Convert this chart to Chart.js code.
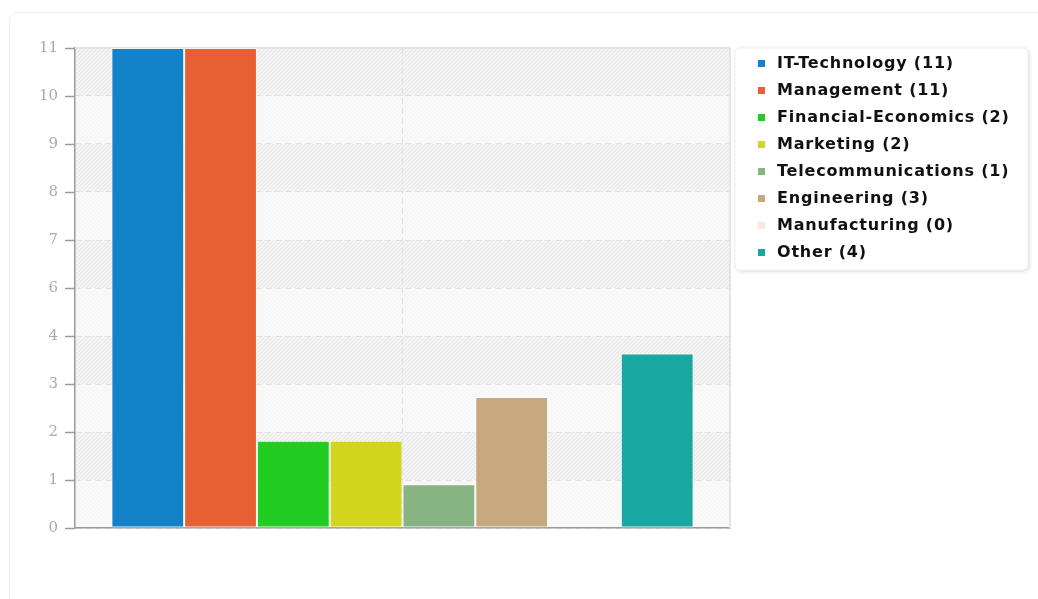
<!DOCTYPE html>
<html lang="en">
<head>
    <meta charset="UTF-8">
    <title>Candidates by Field</title>
    <script src="https://cdn.jsdelivr.net/npm/chart.js"></script>
    <style>
        html, body { margin: 0; padding: 0; background: #fff; }
        .card {
            position: absolute; left: 9px; top: 12px;
            width: 1040px; height: 620px;
            border: 1px solid #eeeeee; border-radius: 9px;
            box-sizing: border-box;
        }
        .chart-wrap { position: absolute; left: 0; top: 0; width: 1038px; height: 599px; }
    </style>
</head>
<body>
    <div class="card"></div>
    <div class="chart-wrap">
        <canvas id="fieldChart"></canvas>
    </div>

    <script>
        const fields = ['IT-Technology', 'Management', 'Financial-Economics', 'Marketing',
                        'Telecommunications', 'Engineering', 'Manufacturing', 'Other'];
        const counts = [11, 11, 2, 2, 1, 3, 0, 4];
        const colors = ['#1482c8', '#e85f33', '#21cd21', '#d2d41d',
                        '#88b383', '#c7a980', '#fbe6de', '#18a8a2'];

        // y ticks split 0..11 into ten equal steps, labels rounded
        const yTickValues = [0, 1.1, 2.2, 3.3, 4.4, 5.5, 6.6, 7.7, 8.8, 9.9, 11];
        const yTickLabels = ['0', '1', '2', '3', '4', '6', '7', '8', '9', '10', '11'];

        function makePattern(base, line) {
            const c = document.createElement('canvas');
            c.width = 4; c.height = 4;
            const g = c.getContext('2d');
            g.fillStyle = base;
            g.fillRect(0, 0, 4, 4);
            g.fillStyle = line;
            for (let i = 0; i < 4; i++) g.fillRect(i, 3 - i, 1, 1);
            return g.createPattern(c, 'repeat');
        }

        // striped background bands, frame and solid tick marks
        const plotBackground = {
            id: 'plotBackground',
            beforeDraw(chart) {
                const { ctx, chartArea: a, scales: { y } } = chart;
                const dense = makePattern('#ececec', '#fbfbfb');
                const light = makePattern('#f9f9f9', '#f3f3f3');
                ctx.save();
                for (let i = 0; i < yTickValues.length - 1; i++) {
                    const y0 = y.getPixelForValue(yTickValues[i]);
                    const y1 = y.getPixelForValue(yTickValues[i + 1]);
                    ctx.fillStyle = i % 2 === 1 ? dense : light;
                    ctx.fillRect(a.left, y1, a.right - a.left, y0 - y1);
                }
                ctx.restore();
            },
            beforeDatasetsDraw(chart) {
                const { ctx, chartArea: a, scales: { y } } = chart;
                ctx.save();
                ctx.strokeStyle = '#e4e4e4';
                ctx.lineWidth = 2;
                ctx.beginPath();
                ctx.moveTo(a.left, a.top);
                ctx.lineTo(a.right, a.top);
                ctx.lineTo(a.right, a.bottom);
                ctx.stroke();
                ctx.strokeStyle = '#9a9a9a';
                ctx.lineWidth = 1.5;
                yTickValues.forEach(v => {
                    const py = Math.round(y.getPixelForValue(v)) + 0.5;
                    ctx.beginPath();
                    ctx.moveTo(a.left - 10, py);
                    ctx.lineTo(a.left, py);
                    ctx.stroke();
                });
                ctx.restore();
            }
        };

        // legend card to the right of the plot
        const sideLegend = {
            id: 'sideLegend',
            afterDraw(chart) {
                const { ctx } = chart;
                const bx = 735, by = 48, bw = 293, bh = 222;
                ctx.save();
                ctx.shadowColor = 'rgba(0,0,0,0.18)';
                ctx.shadowBlur = 4;
                ctx.shadowOffsetX = 1;
                ctx.shadowOffsetY = 1;
                ctx.fillStyle = '#fff';
                ctx.beginPath();
                ctx.roundRect(bx, by, bw, bh, 5);
                ctx.fill();
                ctx.shadowColor = 'transparent';
                ctx.strokeStyle = '#f0f0f0';
                ctx.lineWidth = 1;
                ctx.stroke();

                ctx.font = 'bold 16px "DejaVu Sans"';
                ctx.letterSpacing = '0.8px';
                ctx.textBaseline = 'middle';
                chart.data.datasets.forEach((ds, i) => {
                    const cy = 63 + i * 27;
                    ctx.fillStyle = ds.backgroundColor;
                    ctx.fillRect(758, cy - 3, 7, 7);
                    ctx.fillStyle = '#111';
                    ctx.fillText(ds.label, 777, cy + 1);
                });
                ctx.restore();
            }
        };

        const ctx = document.getElementById('fieldChart').getContext('2d');
        new Chart(ctx, {
            type: 'bar',
            data: {
                labels: [''],
                datasets: fields.map((f, i) => ({
                    label: `${f} (${counts[i]})`,
                    data: [counts[i]],
                    backgroundColor: colors[i],
                    borderColor: 'rgba(255,255,255,0.55)',
                    borderWidth: 1,
                    borderSkipped: false
                }))
            },
            options: {
                responsive: true,
                maintainAspectRatio: false,
                animation: false,
                layout: { padding: { left: 0, top: 48, right: 308, bottom: 71 } },
                datasets: { bar: { categoryPercentage: 8 / 9, barPercentage: 1 } },
                plugins: {
                    legend: { display: false },
                    tooltip: { enabled: false }
                },
                scales: {
                    x: {
                        offset: true,
                        grid: { offset: false, color: '#e2e2e2', drawTicks: false },
                        border: { color: '#9a9a9a', width: 1.5, dash: [6, 4] },
                        ticks: { display: false },
                        afterFit(axis) { axis.height = 0; }
                    },
                    y: {
                        min: 0,
                        max: 11,
                        afterBuildTicks(axis) { axis.ticks = yTickValues.map(v => ({ value: v })); },
                        afterFit(axis) { axis.width = 75; },
                        grid: { color: '#e2e2e2', drawTicks: false },
                        border: { color: '#9a9a9a', width: 1.5, dash: [6, 4] },
                        ticks: {
                            padding: 17,
                            color: '#ababab',
                            font: { family: '"DejaVu Serif"', size: 15 },
                            callback: (v, i) => yTickLabels[i]
                        }
                    }
                }
            },
            plugins: [plotBackground, sideLegend]
        });
    </script>
</body>
</html>
